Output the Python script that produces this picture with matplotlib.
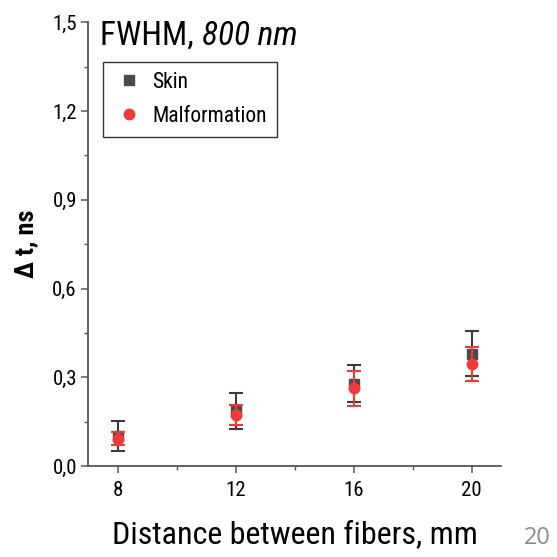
import matplotlib
matplotlib.use("Agg")
import matplotlib.pyplot as plt
from matplotlib import font_manager
from matplotlib.lines import Line2D
from matplotlib.ticker import MultipleLocator, FixedLocator, FuncFormatter

# Pick a condensed sans face if one is available
def pick_family():
    for fam in ["Liberation Sans Narrow", "Roboto Condensed", "Liberation Sans"]:
        try:
            path = font_manager.findfont(fam, fallback_to_default=False)
            if path:
                return fam
        except Exception:
            continue
    return "DejaVu Sans"

FAM = pick_family()
plt.rcParams["font.family"] = [FAM, "DejaVu Sans"]

# Data: source–detector distance (mm) vs pulse broadening (ns)
distance_mm = [8, 12, 16, 20]
skin_dt = [0.103, 0.186, 0.279, 0.380]
skin_err = [0.051, 0.060, 0.062, 0.076]
malf_dt = [0.093, 0.172, 0.263, 0.345]
malf_err = [0.022, 0.034, 0.058, 0.057]

series_names = ["Skin", "Malformation"]
x_ticks = [8, 12, 16, 20]
y_ticks = [0.0, 0.3, 0.6, 0.9, 1.2, 1.5]

SKIN_C = "#4b4b4b"
MALF_C = "#ee3a3a"
AX_C = "#555555"

fig = plt.figure(figsize=(5.57, 5.57), dpi=100)
ax = fig.add_axes([0.158, 0.163, 0.742, 0.797])

ax.errorbar(distance_mm, skin_dt, yerr=skin_err, fmt="s", color=SKIN_C,
            ecolor="#3c3c3c", elinewidth=1.5, capsize=5, capthick=1.5,
            markersize=7, zorder=3)
ax.errorbar(distance_mm, malf_dt, yerr=malf_err, fmt="o", color=MALF_C,
            ecolor=MALF_C, elinewidth=1.5, capsize=5, capthick=1.5,
            markersize=7.5, zorder=4)

ax.set_xlim(7, 21)
ax.set_ylim(0, 1.5)
ax.xaxis.set_major_locator(FixedLocator(x_ticks))
ax.xaxis.set_minor_locator(FixedLocator([10, 14, 18]))
ax.yaxis.set_major_locator(FixedLocator(y_ticks))
ax.yaxis.set_minor_locator(MultipleLocator(0.15))
ax.yaxis.set_major_formatter(FuncFormatter(lambda v, p: f"{v:.1f}".replace(".", ",")))

for s in ["top", "right"]:
    ax.spines[s].set_visible(False)
for s in ["left", "bottom"]:
    ax.spines[s].set_color(AX_C)
    ax.spines[s].set_linewidth(1.3)

ax.tick_params(axis="both", which="major", direction="out", length=5,
               width=1.1, color=AX_C, labelsize=15, pad=3)
ax.tick_params(axis="both", which="minor", direction="out", length=3,
               width=1.0, color=AX_C)
ax.tick_params(axis="x", pad=6)

ax.set_xlabel("Distance between fibers, mm", fontsize=23, labelpad=14)
ax.set_ylabel("Δ t, ns", fontsize=19, fontweight="bold", labelpad=10)

# Panel title: regular label followed by italic wavelength
t1 = ax.text(0.03, 0.97, "FWHM, ", transform=ax.transAxes, fontsize=24,
             va="center", ha="left")
fig.canvas.draw()
bb = t1.get_window_extent()
x_end = ax.transAxes.inverted().transform((bb.x1, bb.y0))[0]
ax.text(x_end, 0.97, "800 nm", transform=ax.transAxes, fontsize=24,
        style="italic", va="center", ha="left")

handles = [
    Line2D([], [], ls="none", marker="s", markersize=7, color=SKIN_C),
    Line2D([], [], ls="none", marker="o", markersize=7.5, color=MALF_C),
]
leg = ax.legend(handles, series_names, loc="upper left",
                bbox_to_anchor=(0.036, 0.91), fontsize=15.5,
                frameon=True, fancybox=False, edgecolor="black",
                handletextpad=0.35, borderpad=0.45, labelspacing=0.6,
                handlelength=1.5, borderaxespad=0)
leg.get_frame().set_linewidth(1.0)

fig.text(0.965, 0.012, "20", fontsize=17, color="#8a8a8a", ha="center",
         va="bottom", family=["Open Sans", "DejaVu Sans"])

fig.savefig("out.png", dpi=100)
